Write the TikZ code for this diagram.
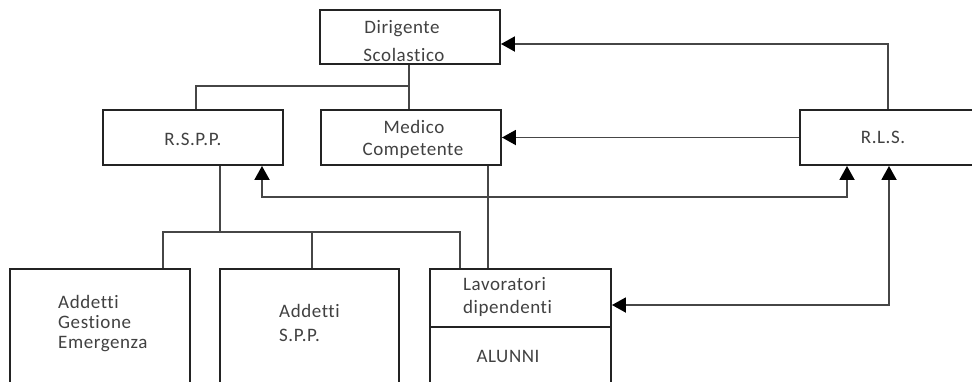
\documentclass[tikz,border=0pt]{standalone}
\usepackage{fontspec}
\setmainfont{Carlito}[LetterSpace=3,Ligatures=NoCommon]
\usetikzlibrary{arrows.meta,calc}
\definecolor{txtgray}{RGB}{65,65,65}
\definecolor{boxline}{RGB}{35,35,35}
\definecolor{connline}{RGB}{70,70,70}
\tikzset{
  box/.style={draw=boxline, line width=1.9pt, inner sep=0pt, fill=none},
  conn/.style={draw=connline, line width=1.9pt},
  arr/.style={conn, -{Triangle[length=14pt,width=15pt,color=black]}},
  arrtwo/.style={conn, {Triangle[length=14pt,width=15pt,color=black]}-{Triangle[length=14pt,width=15pt,color=black]}},
  txt/.style={font=\fontsize{19}{21}\selectfont, text=txtgray, inner sep=0pt},
}
\begin{document}
\begin{tikzpicture}[x=1pt,y=-1pt]
\useasboundingbox (0,0) rectangle (972,381);
\clip (0,0) rectangle (972,381);
\fill[white] (0,0) rectangle (972,381);
% boxes
\node[box, minimum width=180pt, minimum height=54pt] (dir) at (410,37) {};
\node[box, minimum width=180pt, minimum height=55pt] (rspp) at (193,137.5) {};
\node[box, minimum width=180pt, minimum height=55pt] (med) at (411,137.5) {};
\node[box, minimum width=180pt, minimum height=55pt] (rls) at (890,137.5) {};
\node[box, minimum width=180pt, minimum height=121pt] (age) at (100,329.5) {};
\node[box, minimum width=179pt, minimum height=121pt] (spp) at (309.5,329.5) {};
\node[box, minimum width=181pt, minimum height=58pt] (lav) at (520.5,298) {};
\node[box, minimum width=181pt, minimum height=63pt] (alu) at (520.5,358.5) {};
% texts
\node[txt, anchor=base] (t1) at (402,33) {Dirigente};
\node[txt, anchor=base] (t2) at (404,61) {Scolastico};
\node[txt, anchor=base] (t3) at (193,145) {R.S.P.P.};
\node[txt, anchor=base] (t4) at (414,133) {Medico};
\node[txt, anchor=base] (t5) at (413,155) {Competente};
\node[txt, anchor=base] (t6) at (883,143) {R.L.S.};
\node[txt, anchor=base west] (t7) at (58,308) {Addetti};
\node[txt, anchor=base west] (t8) at (58,328) {Gestione};
\node[txt, anchor=base west] (t9) at (58,348) {Emergenza};
\node[txt, anchor=base west] (t10) at (279,317) {Addetti};
\node[txt, anchor=base west] (t11) at (279,341) {S.P.P.};
\node[txt, anchor=base west] (t12) at (463,290) {Lavoratori};
\node[txt, anchor=base west] (t13) at (463,313) {dipendenti};
\node[txt, anchor=base] (t14) at (508,362) {ALUNNI};
% junction coordinates
\coordinate (jd) at (409,86);
\coordinate (rt) at (888,44);
\coordinate (b1) at (262,197);
\coordinate (b2) at (847,197);
\coordinate (b3) at (889,305);
\coordinate (hs) at (220,232);
\coordinate (hl) at (163,232);
\coordinate (hm) at (312,232);
\coordinate (hr) at (460,232);
\coordinate (m1) at (488,200);
% connectors
\draw[conn] (dir.south -| jd) -- (jd) -| ($(rspp.north)+(3,0)$);
\draw[conn] (jd) -- (med.north -| jd);
\draw[arr] (rls.north -| rt) -- (rt) -- (rt -| dir.east);
\draw[arr] (rls.west) -- (med.east);
\draw[arrtwo] (rspp.south -| b1) -- (b1) -- (b2) -- (rls.south -| b2);
\draw[arrtwo] (lav.east |- b3) -- (b3) -- (rls.south -| b3);
\draw[conn] (rspp.south -| hs) -- (hs);
\draw[conn] (age.north -| hl) -- (hl) -- (hr) -- (lav.north -| hr);
\draw[conn] (hm) -- (spp.north -| hm);
\draw[conn] (med.south -| m1) -- (lav.north -| m1);
\end{tikzpicture}
\end{document}
